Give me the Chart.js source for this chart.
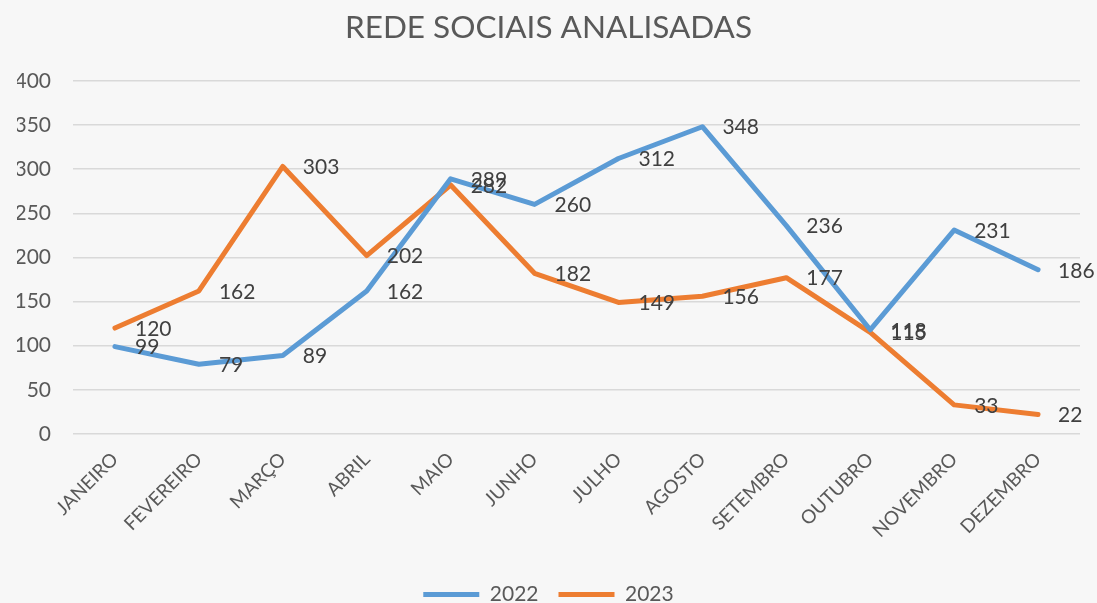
<!DOCTYPE html>
<html>
<head>
<meta charset="utf-8">
<script src="https://cdn.jsdelivr.net/npm/chart.js@4/dist/chart.umd.min.js"></script>
<style>
  html, body { margin: 0; padding: 0; background: #f7f7f7; }
  #wrap { width: 1097px; height: 603px; }
</style>
</head>
<body>
<div id="wrap"><canvas id="redesChart"></canvas></div>
<script>
// Rede sociais analisadas - 2022 vs 2023
const months = ['JANEIRO','FEVEREIRO','MARÇO','ABRIL','MAIO','JUNHO','JULHO','AGOSTO','SETEMBRO','OUTUBRO','NOVEMBRO','DEZEMBRO'];
const values2022 = [99, 79, 89, 162, 289, 260, 312, 348, 236, 118, 231, 186];
const values2023 = [120, 162, 303, 202, 282, 182, 149, 156, 177, 115, 33, 22];
const yTicks = [0, 50, 100, 150, 200, 250, 300, 350, 400];

const FONT = 'Lato, "Open Sans", sans-serif';
const TEXT = '#595959';

// draws the value next to each point (like Excel "right" labels)
const valueLabels = {
  id: 'valueLabels',
  afterDatasetsDraw(chart) {
    const ctx = chart.ctx;
    ctx.save();
    ctx.font = '21px ' + FONT;
    ctx.fillStyle = '#404040';
    ctx.textAlign = 'left';
    ctx.textBaseline = 'middle';
    chart.data.datasets.forEach((ds, i) => {
      chart.getDatasetMeta(i).data.forEach((pt, j) => {
        ctx.fillText(String(ds.data[j]), pt.x + 20, pt.y + 1);
      });
    });
    ctx.restore();
  }
};

const ctx = document.getElementById('redesChart');
new Chart(ctx, {
  type: 'line',
  data: {
    labels: months,
    datasets: [
      {
        label: '2022',
        data: values2022,
        borderColor: '#5B9BD5',
        backgroundColor: '#5B9BD5',
        borderWidth: 5,
        pointRadius: 0,
        tension: 0,
        borderCapStyle: 'round',
        borderJoinStyle: 'round'
      },
      {
        label: '2023',
        data: values2023,
        borderColor: '#ED7D31',
        backgroundColor: '#ED7D31',
        borderWidth: 5,
        pointRadius: 0,
        tension: 0,
        borderCapStyle: 'round',
        borderJoinStyle: 'round'
      }
    ]
  },
  options: {
    responsive: true,
    maintainAspectRatio: false,
    animation: false,
    layout: { padding: { left: 17, right: 17, top: 0, bottom: -12 } },
    plugins: {
      title: {
        display: true,
        text: 'REDE SOCIAIS ANALISADAS',
        color: TEXT,
        font: { family: FONT, size: 31.5, weight: 'normal' },
        padding: { top: 9, bottom: 34 }
      },
      legend: {
        display: true,
        position: 'bottom',
        labels: {
          color: TEXT,
          font: { family: FONT, size: 21 },
          boxWidth: 56,
          boxHeight: 5,
          padding: 20,
          generateLabels(chart) {
            return Chart.defaults.plugins.legend.labels.generateLabels(chart)
              .map(l => Object.assign(l, { lineWidth: 0 }));
          }
        }
      },
      tooltip: { enabled: false }
    },
    scales: {
      x: {
        offset: true,
        grid: { display: false },
        border: { display: false },
        ticks: {
          color: TEXT,
          font: { family: FONT, size: 19 },
          maxRotation: 45,
          minRotation: 45,
          padding: 6
        },
        afterFit(scale) { scale.height = 130; }
      },
      y: {
        min: 0,
        max: 400,
        afterBuildTicks(scale) { scale.ticks = yTicks.map(v => ({ value: v })); },
        grid: { color: '#d9d9d9', lineWidth: 1.5, drawTicks: false },
        border: { display: false },
        ticks: {
          color: TEXT,
          font: { family: FONT, size: 21 },
          padding: 22
        },
        afterFit(scale) { scale.width = 56; }
      }
    }
  },
  plugins: [valueLabels]
});
</script>
</body>
</html>
